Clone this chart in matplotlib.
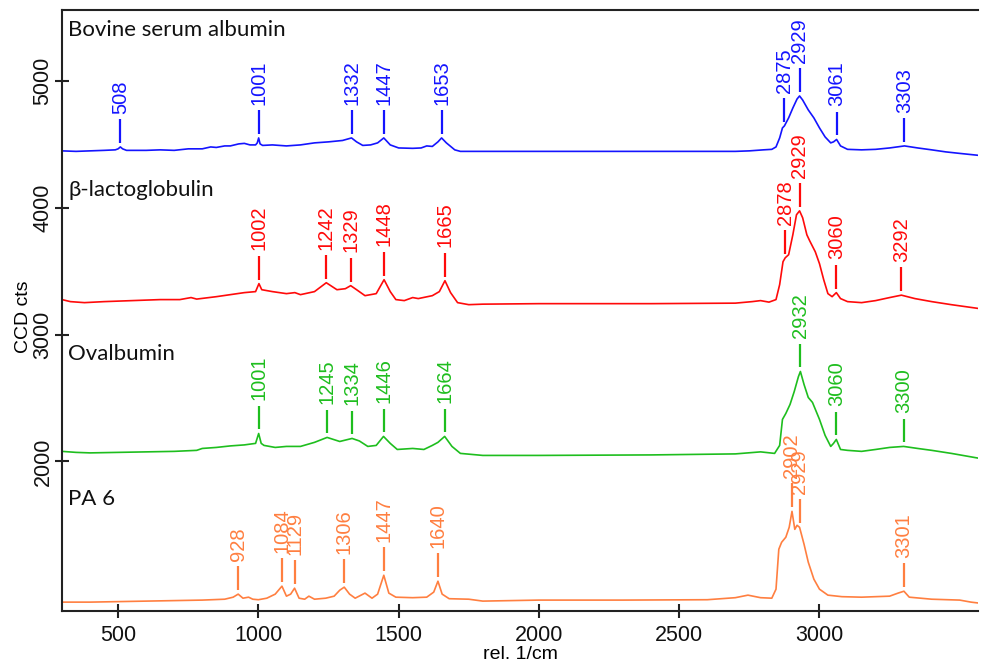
import numpy as np
import matplotlib

matplotlib.use("Agg")
import matplotlib.pyplot as plt

# Raman spectra (wavenumber in rel. 1/cm, CCD counts)
bsa_wn = [300, 350, 400, 450, 490, 500, 508, 516, 530, 600, 650, 700, 750, 800, 830, 850, 880, 900,
          930, 950, 970, 990, 996, 1001, 1006, 1015, 1050, 1100, 1150, 1200, 1250, 1300, 1332, 1350,
          1372, 1400, 1425, 1447, 1470, 1500, 1550, 1580, 1600, 1620, 1640, 1653, 1670, 1700, 1720,
          1800, 2000, 2200, 2400, 2600, 2700, 2750, 2800, 2830, 2845, 2858, 2868, 2875, 2890, 2905,
          2920, 2929, 2940, 2960, 2980, 3000, 3020, 3040, 3050, 3061, 3075, 3100, 3150, 3200, 3250,
          3303, 3350, 3400, 3450, 3500, 3570]
bsa_cts = [4449, 4445, 4449, 4453, 4457, 4465, 4480, 4465, 4453, 4453, 4457, 4453, 4465, 4465, 4480,
           4476, 4488, 4488, 4504, 4508, 4496, 4496, 4512, 4551, 4504, 4492, 4496, 4488, 4496, 4512,
           4520, 4531, 4551, 4520, 4492, 4496, 4512, 4551, 4496, 4472, 4469, 4472, 4488, 4484, 4520,
           4551, 4512, 4457, 4445, 4445, 4445, 4445, 4445, 4445, 4445, 4449, 4457, 4461, 4480, 4551,
           4630, 4646, 4709, 4787, 4858, 4882, 4850, 4772, 4709, 4630, 4559, 4512, 4520, 4539, 4488,
           4461, 4457, 4461, 4472, 4488, 4472, 4457, 4441, 4429, 4413]

blg_wn = [300, 330, 380, 450, 550, 650, 720, 760, 780, 850, 900, 950, 990, 1002, 1012, 1050, 1100,
          1130, 1150, 1200, 1242, 1280, 1310, 1329, 1350, 1380, 1400, 1420, 1448, 1470, 1490, 1520,
          1550, 1570, 1620, 1645, 1665, 1685, 1710, 1750, 1800, 2000, 2400, 2700, 2760, 2790, 2820,
          2845, 2858, 2870, 2878, 2890, 2905, 2918, 2929, 2940, 2955, 2965, 2985, 3000, 3015, 3030,
          3045, 3060, 3075, 3100, 3150, 3200, 3250, 3292, 3340, 3400, 3470, 3570]
blg_cts = [3276, 3260, 3252, 3260, 3268, 3276, 3276, 3292, 3280, 3299, 3315, 3331, 3339, 3402, 3354,
           3339, 3323, 3331, 3315, 3339, 3409, 3354, 3362, 3386, 3354, 3307, 3315, 3323, 3433, 3339,
           3276, 3268, 3292, 3284, 3307, 3339, 3425, 3331, 3252, 3236, 3240, 3244, 3244, 3248, 3260,
           3268, 3256, 3276, 3394, 3575, 3606, 3630, 3787, 3945, 3976, 3921, 3787, 3740, 3653, 3559,
           3433, 3323, 3299, 3331, 3284, 3260, 3252, 3268, 3292, 3311, 3284, 3260, 3236, 3205]

ova_wn = [300, 350, 400, 500, 600, 700, 780, 800, 850, 900, 950, 990, 1001, 1010, 1020, 1060, 1100,
          1150, 1200, 1245, 1290, 1334, 1360, 1390, 1420, 1446, 1470, 1495, 1550, 1590, 1620, 1640,
          1664, 1690, 1720, 1800, 2000, 2400, 2700, 2790, 2840, 2858, 2868, 2880, 2895, 2910, 2925,
          2932, 2945, 2960, 2975, 3000, 3020, 3040, 3050, 3060, 3075, 3100, 3150, 3200, 3250, 3300,
          3350, 3400, 3470, 3570]
ova_cts = [2079, 2071, 2067, 2071, 2075, 2079, 2087, 2102, 2110, 2122, 2130, 2142, 2220, 2142, 2126,
           2110, 2118, 2118, 2150, 2189, 2157, 2181, 2161, 2118, 2126, 2197, 2142, 2094, 2102, 2094,
           2126, 2150, 2197, 2118, 2063, 2047, 2047, 2051, 2059, 2075, 2063, 2126, 2331, 2378, 2449,
           2551, 2669, 2709, 2606, 2504, 2465, 2331, 2205, 2118, 2142, 2173, 2094, 2087, 2079, 2094,
           2110, 2118, 2102, 2087, 2063, 2024]

pa6_wn = [300, 400, 500, 600, 700, 800, 880, 910, 928, 945, 965, 980, 1000, 1030, 1060, 1084, 1100,
          1115, 1129, 1145, 1165, 1180, 1200, 1240, 1270, 1290, 1306, 1325, 1345, 1380, 1405, 1425,
          1447, 1465, 1490, 1550, 1600, 1625, 1640, 1655, 1680, 1750, 1800, 2000, 2300, 2600, 2700,
          2745, 2790, 2830, 2845, 2855, 2865, 2880, 2892, 2902, 2912, 2920, 2929, 2945, 2960, 2980,
          3000, 3030, 3080, 3150, 3250, 3280, 3301, 3320, 3400, 3500, 3540, 3570]
pa6_cts = [890, 890, 894, 898, 902, 906, 913, 929, 953, 921, 929, 913, 909, 921, 953, 1016, 937, 953,
           1000, 921, 913, 937, 913, 921, 937, 984, 1008, 953, 921, 961, 921, 953, 1102, 961, 929, 925,
           929, 969, 1055, 953, 917, 913, 898, 906, 906, 909, 925, 945, 925, 921, 992, 1307, 1362,
           1402, 1480, 1606, 1464, 1496, 1480, 1346, 1205, 1071, 992, 945, 933, 929, 937, 961, 976,
           929, 913, 906, 890, 882]

names = ["Bovine serum albumin", "\u03b2-lactoglobulin", "Ovalbumin", "PA 6"]
name_y = [5400, 4140, 2845, 1700]
bsa_peaks = [508, 1001, 1332, 1447, 1653, 2875, 2929, 3061, 3303]
blg_peaks = [1002, 1242, 1329, 1448, 1665, 2878, 2929, 3060, 3292]
ova_peaks = [1001, 1245, 1334, 1446, 1664, 2932, 3060, 3300]
pa6_peaks = [928, 1084, 1129, 1306, 1447, 1640, 2902, 2929, 3301]
colors = ["#1414ff", "#ff0a0a", "#1ebe1e", "#ff7f40"]

spectra = [(bsa_wn, bsa_cts, bsa_peaks), (blg_wn, blg_cts, blg_peaks),
           (ova_wn, ova_cts, ova_peaks), (pa6_wn, pa6_cts, pa6_peaks)]

fig = plt.figure(figsize=(9.81, 6.64), dpi=100)
ax = fig.add_axes([62 / 981, 53 / 664, 916 / 981, 601 / 664])

for (wn, cts, peaks), color, name, ny in zip(spectra, colors, names, name_y):
    ax.plot(wn, cts, color=color, lw=1.2)
    for p in peaks:
        top = np.interp(p, wn, cts)
        ax.plot([p, p], [top + 32, top + 220], color=color, lw=1.6, solid_capstyle="butt")
        ax.text(p, top + 262, str(p), rotation=90, ha="center", va="bottom",
                color=color, fontsize=14.5, family="Liberation Sans")
    ax.text(322, ny, name, ha="left", va="center", fontsize=16,
            family=["Lato", "DejaVu Sans"], color="#111111")

ax.set_xlim(300, 3565)
ax.set_ylim(820, 5560)
ax.set_xticks([500, 1000, 1500, 2000, 2500, 3000])
ax.set_yticks([2000, 3000, 4000, 5000])

for side in ("left", "top", "bottom"):
    ax.spines[side].set_linewidth(1.5)
    ax.spines[side].set_color("#222222")
ax.spines["right"].set_visible(False)

ax.tick_params(direction="inout", length=10, width=1.5, color="#222222",
               labelsize=15.5, labelcolor="#111111")
ax.tick_params(axis="x", pad=5)
ax.tick_params(axis="y", labelrotation=90, pad=1)
for lbl in ax.get_xticklabels() + ax.get_yticklabels():
    lbl.set_family("Liberation Sans")
for lbl in ax.get_yticklabels():
    lbl.set_va("center")

ax.set_xlabel("rel. 1/cm", fontsize=14, family="Liberation Sans", labelpad=0)
ax.set_ylabel("CCD cts", fontsize=14, family="Liberation Sans")
ax.yaxis.set_label_coords(-0.033, 0.49)

fig.savefig("out.png", dpi=100)
